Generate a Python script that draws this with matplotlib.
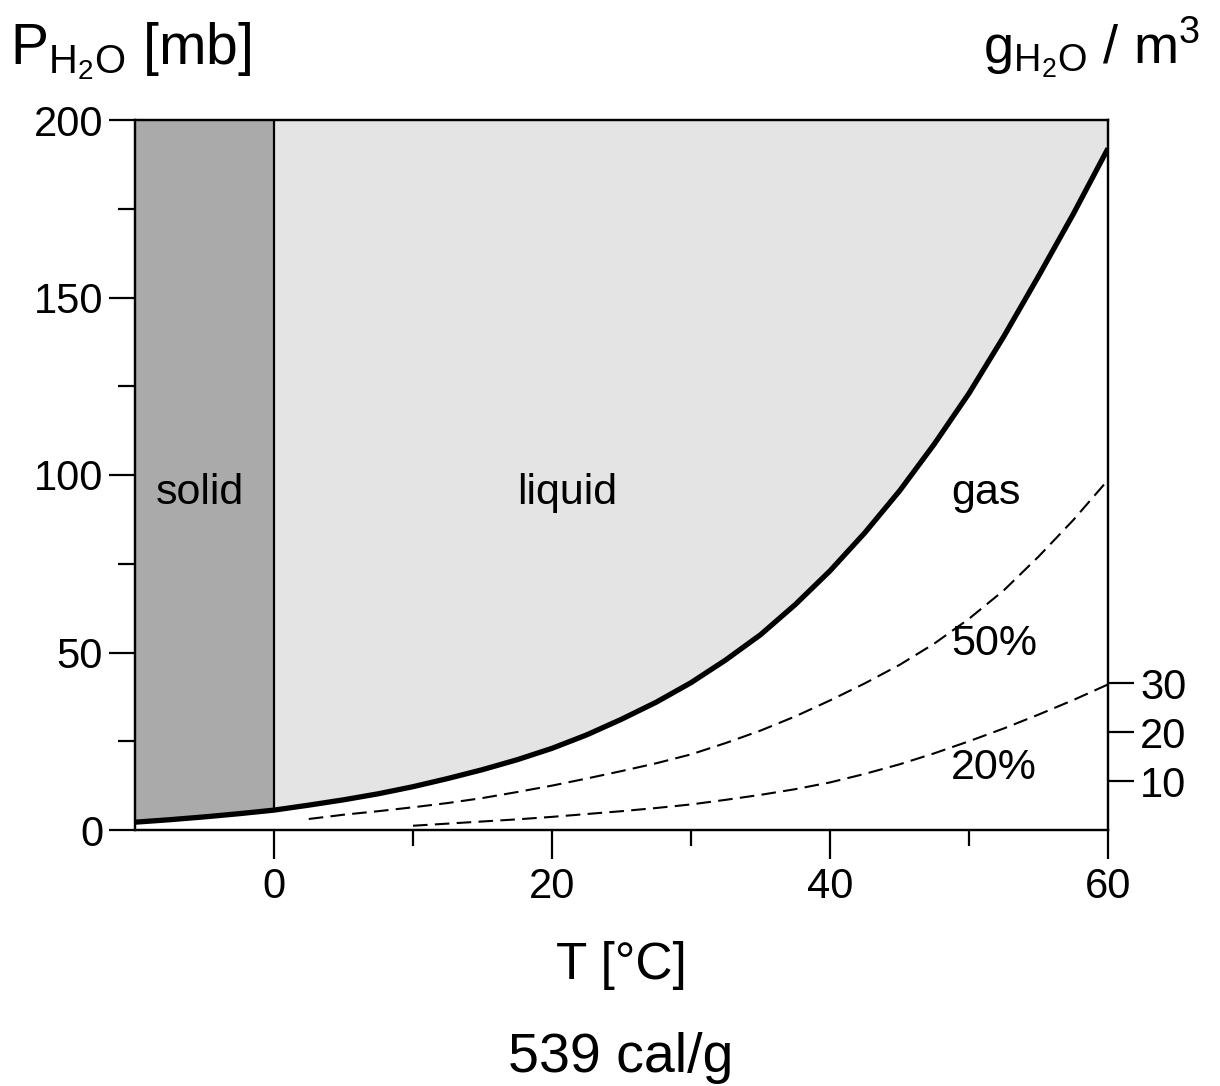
import matplotlib
matplotlib.use("Agg")
import matplotlib.pyplot as plt
from matplotlib.ticker import FixedLocator
import numpy as np

plt.rcParams["font.family"] = ["Liberation Sans", "DejaVu Sans"]
plt.rcParams["mathtext.fontset"] = "custom"
plt.rcParams["mathtext.rm"] = "Liberation Sans"
plt.rcParams["mathtext.it"] = "Liberation Sans"
plt.rcParams["mathtext.default"] = "regular"

# saturation vapour pressure over temperature (mb)
temp_sat = np.array([-10, -7.5, -5, -2.5, 0, 2.5, 5, 7.5, 10, 12.5, 15, 17.5,
                     20, 22.5, 25, 27.5, 30, 32.5, 35, 37.5, 40, 42.5, 45,
                     47.5, 50, 52.5, 55, 57.5, 60])
p_sat = np.array([2.2, 2.9, 3.7, 4.6, 5.6, 7.0, 8.5, 10.2, 12.2, 14.5, 17.0,
                  19.8, 23.0, 26.8, 31.2, 36.0, 41.5, 47.9, 55.0, 63.5, 73.0,
                  83.7, 95.5, 108.7, 123.0, 139.0, 156.0, 173.5, 192.0])

# 50 % relative humidity
temp_50 = np.array([2.5, 5, 7.5, 10, 12.5, 15, 17.5, 20, 22.5, 25, 27.5, 30,
                    32.5, 35, 37.5, 40, 42.5, 45, 47.5, 50, 52.5, 55, 57.5, 60])
p_50 = np.array([3.1, 4.3, 5.3, 6.4, 7.6, 9.0, 10.7, 12.5, 14.5, 16.6, 18.8,
                 21.3, 24.5, 28.0, 32.0, 36.5, 41.3, 46.5, 52.5, 59.5, 67.5,
                 77.0, 87.3, 98.6])

# 20 % relative humidity
temp_20 = np.array([10, 12.5, 15, 17.5, 20, 22.5, 25, 27.5, 30, 32.5, 35,
                    37.5, 40, 42.5, 45, 47.5, 50, 52.5, 55, 57.5, 60])
p_20 = np.array([1.2, 1.8, 2.4, 3.0, 3.7, 4.5, 5.3, 6.2, 7.2, 8.5, 9.9, 11.5,
                 13.4, 15.8, 18.5, 21.6, 25.0, 28.6, 32.5, 36.6, 41.0])

x_major = [0, 20, 40, 60]
x_minor = [10, 30, 50]
y_major = [0, 50, 100, 150, 200]
y_minor = [25, 75, 125, 175]
abs_ticks = [10, 20, 30]          # g/m3 on the right axis
abs_max = 145                      # g/m3 at 200 mb

fig = plt.figure(figsize=(12.2, 10.86), dpi=100)
ax = fig.add_axes([135 / 1220, 1 - 830 / 1086, 973 / 1220, 710 / 1086])

# phase regions above the saturation curve
ax.fill_between(temp_sat, p_sat, 200, where=temp_sat <= 0,
                color="#aaaaaa", lw=0, zorder=1)
ax.fill_between(temp_sat, p_sat, 200, where=temp_sat >= 0,
                color="#e4e4e4", lw=0, zorder=1)
ax.plot([0, 0], [p_sat[temp_sat == 0][0], 200], color="black", lw=1.6, zorder=2)

ax.plot(temp_sat, p_sat, color="black", lw=3.8, solid_capstyle="butt",
        solid_joinstyle="round", zorder=3)
ax.plot(temp_50, p_50, color="black", lw=1.5, dashes=(7, 3.5), zorder=3)
ax.plot(temp_20, p_20, color="black", lw=1.5, dashes=(7, 3.5), zorder=3)

ax.set_xlim(-10, 60)
ax.set_ylim(0, 200)
for s in ax.spines.values():
    s.set_linewidth(1.6)

ax.xaxis.set_major_locator(FixedLocator(x_major))
ax.xaxis.set_minor_locator(FixedLocator(x_minor))
ax.yaxis.set_major_locator(FixedLocator(y_major))
ax.yaxis.set_minor_locator(FixedLocator(y_minor))
ax.tick_params(axis="x", which="major", direction="out", length=21, width=1.6,
               labelsize=30, pad=6)
ax.tick_params(axis="x", which="minor", direction="out", length=11.5, width=1.6)
ax.tick_params(axis="y", which="major", direction="out", length=19, width=1.6,
               labelsize=30, pad=4)
ax.tick_params(axis="y", which="minor", direction="out", length=12, width=1.6)

lbl = dict(fontsize=31, ha="center", va="center", zorder=4)
ax.text(-5.3, 95, "solid", **lbl)
ax.text(21.1, 95, "liquid", **lbl)
ax.text(51.2, 95, "gas", **lbl)
ax.text(51.8, 52.5, "50%", **lbl)
ax.text(51.8, 17.5, "20%", **lbl)

# absolute humidity scale on the right
ax2 = ax.twinx()
ax2.set_ylim(0, abs_max)
ax2.yaxis.set_major_locator(FixedLocator(abs_ticks))
ax2.tick_params(axis="y", which="major", direction="out", length=19, width=1.6,
                labelsize=30, pad=4)
for s in ax2.spines.values():
    s.set_linewidth(1.6)

ax.set_xlabel("T [°C]", fontsize=37, labelpad=24)

fig.text(10 / 1220, 1 - 65 / 1086, r"P$_{H_2O}$ [mb]", fontsize=41,
         ha="left", va="baseline")
fig.text(1200 / 1220, 1 - 64 / 1086, r"g$_{H_2O}$ / m$^3$", fontsize=39,
         ha="right", va="baseline")
fig.text(621 / 1220, 1 - 1072 / 1086, "539 cal/g", fontsize=40,
         ha="center", va="baseline")

fig.savefig("out.png", dpi=100, facecolor="white")
